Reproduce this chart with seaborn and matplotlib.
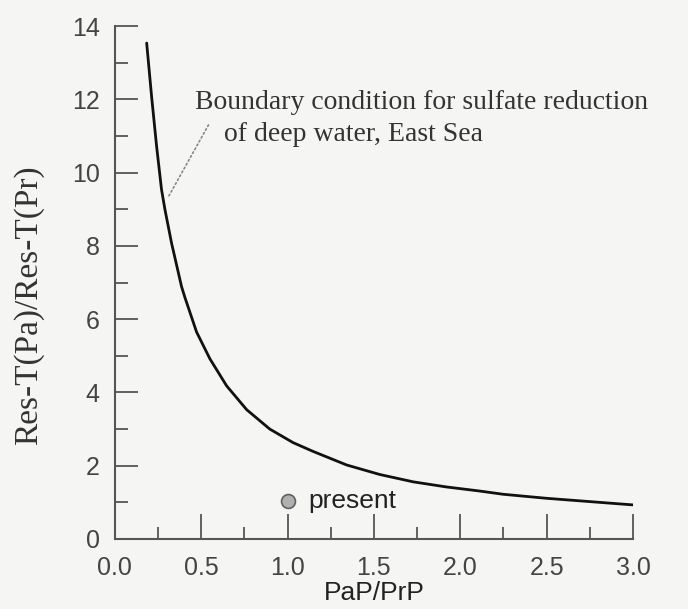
import numpy as np
import pandas as pd
import seaborn as sns
import matplotlib.pyplot as plt
from matplotlib.ticker import MultipleLocator

# curve
pap_prp = [0.184, 0.2125, 0.2415, 0.270, 0.290, 0.328, 0.386, 0.405, 0.473, 0.550,
           0.647, 0.763, 0.897, 1.032, 1.148, 1.342, 1.534, 1.727, 1.92,
           2.11, 2.249, 2.5, 2.75, 3.0]
res_ratio = [13.54, 12.08, 10.72, 9.54, 8.99, 8.08, 6.89, 6.60, 5.65, 4.92,
             4.18, 3.53, 3.00, 2.63, 2.39, 2.02, 1.76, 1.56, 1.42,
             1.31, 1.22, 1.11, 1.02, 0.93]

# present-day point
present_x = [1.0]
present_y = [1.05]

x_ticks = [0.0, 0.5, 1.0, 1.5, 2.0, 2.5, 3.0]
y_ticks = [0, 2, 4, 6, 8, 10, 12, 14]

curve = pd.DataFrame({"x": pap_prp, "y": res_ratio})
pres = pd.DataFrame({"x": present_x, "y": present_y})

sns.set_style("ticks")
bg = "#f5f5f3"
fig = plt.figure(figsize=(6.88, 6.09), dpi=100, facecolor=bg)
ax = fig.add_axes([0.167, 0.115, 0.753, 0.842])
ax.set_facecolor(bg)

sns.lineplot(data=curve, x="x", y="y", color="#111111", linewidth=2.0, ax=ax)
ax.lines[0].set_solid_joinstyle("round")
sns.scatterplot(data=pres, x="x", y="y", s=100, color="#b0b0b0",
                edgecolor="#606060", linewidth=1.2, ax=ax, zorder=5)

ax.text(1.12, 1.05, "present", fontsize=19, color="#222222",
        family="Liberation Sans", va="center", ha="left")

ax.text(0.463, 11.92, "Boundary condition for sulfate reduction", fontsize=20,
        family="Liberation Serif", color="#333333", va="center", ha="left")
ax.text(0.631, 11.04, "of deep water, East Sea", fontsize=20,
        family="Liberation Serif", color="#333333", va="center", ha="left")
ax.annotate("", xy=(0.30, 9.26), xytext=(0.55, 11.37),
            arrowprops=dict(arrowstyle="-", linestyle=":", color="#888888", lw=1.2))

ax.set_xlim(0, 3.0)
ax.set_ylim(0, 14)
ax.set_xticks(x_ticks)
ax.set_yticks(y_ticks)
ax.set_xticklabels([f"{v:.1f}" for v in x_ticks])
ax.xaxis.set_minor_locator(MultipleLocator(0.25))
ax.yaxis.set_minor_locator(MultipleLocator(1))

sns.despine(ax=ax)
for s in ["left", "bottom"]:
    ax.spines[s].set_color("#555555")
    ax.spines[s].set_linewidth(1.5)

ax.tick_params(axis="x", which="major", direction="in", length=18, width=1.3,
               color="#555555", pad=12, labelsize=18, labelcolor="#444444")
ax.tick_params(axis="x", which="minor", direction="in", length=9, width=1.3, color="#555555")
ax.tick_params(axis="y", which="major", direction="in", length=16.5, width=1.3,
               color="#555555", pad=11, labelsize=18, labelcolor="#444444")
ax.tick_params(axis="y", which="minor", direction="in", length=9.5, width=1.3, color="#555555")
for lab in ax.get_xticklabels() + ax.get_yticklabels():
    lab.set_family("Liberation Sans")

ax.set_xlabel("PaP/PrP", fontsize=19, family="Liberation Sans", color="#222222", labelpad=1)
ax.set_ylabel("Res-T(Pa)/Res-T(Pr)", fontsize=24, family="Liberation Serif",
              color="#333333", labelpad=20, y=0.456)

fig.savefig("out.png", dpi=100, facecolor=bg)
